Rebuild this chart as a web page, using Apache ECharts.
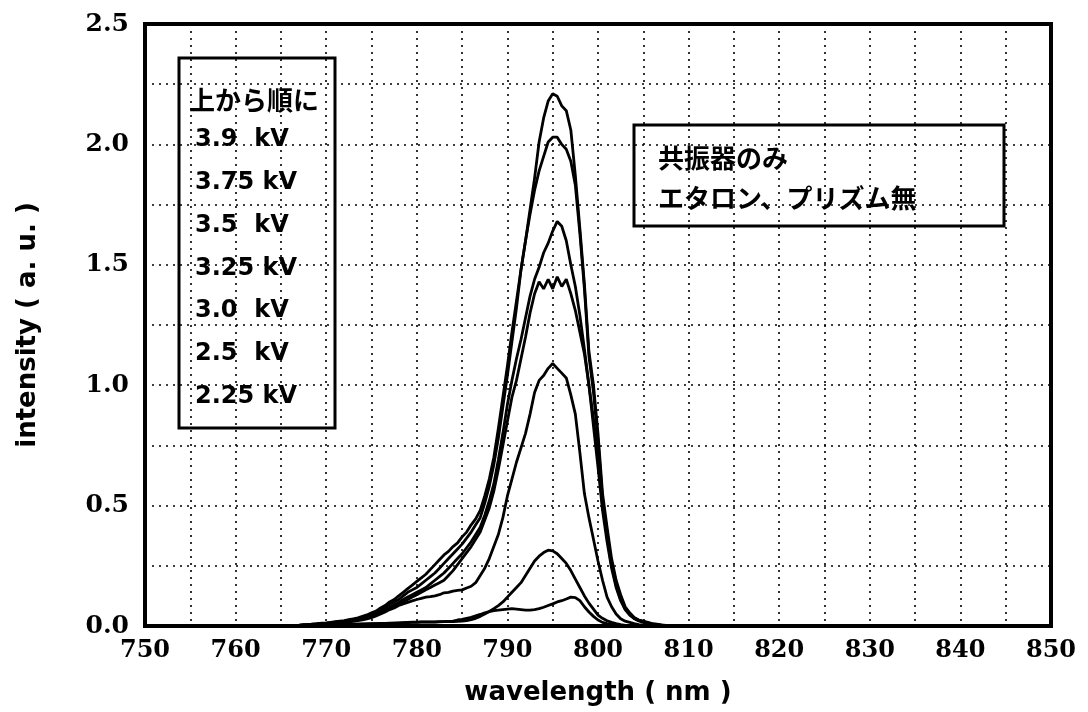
<!DOCTYPE html>
<html>
<head>
<meta charset="utf-8">
<script src="https://cdn.jsdelivr.net/npm/echarts@6/dist/echarts.min.js"></script>
<style>
html,body{margin:0;padding:0;background:#fff;}
#chart{width:1088px;height:712px;}
</style>
</head>
<body>
<div id="chart"></div>
<script>
const wavelength = [766,766.5,767,767.5,768,768.5,769,769.5,770,770.5,771,771.5,772,772.5,773,773.5,774,774.5,775,775.5,776,776.5,777,777.5,778,778.5,779,779.5,780,780.5,781,781.5,782,782.5,783,783.5,784,784.5,785,785.5,786,786.5,787,787.5,788,788.5,789,789.5,790,790.5,791,791.5,792,792.5,793,793.5,794,794.5,795,795.5,796,796.5,797,797.5,798,798.5,799,799.5,800,800.5,801,801.5,802,802.5,803,803.5,804,804.5,805,805.5,806,806.5,807,807.5,808];

const v390 = [0.000,0.003,0.004,0.006,0.006,0.008,0.010,0.012,0.012,0.015,0.018,0.020,0.022,0.026,0.030,0.034,0.040,0.046,0.055,0.062,0.075,0.085,0.100,0.110,0.125,0.140,0.155,0.170,0.185,0.200,0.215,0.235,0.255,0.275,0.295,0.310,0.330,0.345,0.370,0.390,0.420,0.445,0.480,0.540,0.610,0.700,0.820,0.950,1.080,1.220,1.350,1.480,1.600,1.730,1.860,2.010,2.110,2.180,2.210,2.200,2.160,2.140,2.060,1.870,1.650,1.420,1.140,1.000,0.800,0.550,0.410,0.280,0.190,0.130,0.080,0.055,0.035,0.025,0.020,0.015,0.010,0.008,0.005,0.003,0.000];
const v375 = [0.000,0.002,0.003,0.005,0.006,0.008,0.009,0.011,0.012,0.014,0.016,0.019,0.020,0.024,0.027,0.031,0.036,0.042,0.050,0.058,0.068,0.078,0.090,0.100,0.110,0.125,0.140,0.150,0.160,0.175,0.190,0.205,0.220,0.240,0.260,0.280,0.300,0.320,0.340,0.365,0.390,0.420,0.450,0.510,0.580,0.670,0.780,0.910,1.040,1.180,1.320,1.480,1.600,1.710,1.810,1.890,1.950,2.010,2.030,2.030,2.000,1.980,1.930,1.830,1.630,1.400,1.120,0.970,0.770,0.530,0.390,0.260,0.180,0.120,0.075,0.050,0.033,0.024,0.018,0.013,0.009,0.006,0.004,0.002,0.000];
const v350 = [0.000,0.002,0.003,0.004,0.005,0.007,0.008,0.010,0.011,0.013,0.015,0.017,0.019,0.022,0.025,0.029,0.033,0.038,0.045,0.052,0.060,0.068,0.078,0.088,0.098,0.110,0.120,0.130,0.140,0.150,0.160,0.175,0.190,0.205,0.220,0.240,0.260,0.280,0.300,0.325,0.350,0.380,0.410,0.460,0.520,0.590,0.690,0.800,0.920,1.020,1.110,1.190,1.280,1.370,1.440,1.490,1.550,1.590,1.640,1.680,1.660,1.600,1.500,1.410,1.290,1.150,1.000,0.860,0.700,0.500,0.370,0.250,0.170,0.110,0.070,0.048,0.032,0.023,0.017,0.012,0.008,0.005,0.003,0.002,0.000];
const v325 = [0.000,0.001,0.002,0.004,0.005,0.006,0.007,0.009,0.010,0.012,0.014,0.016,0.018,0.020,0.023,0.027,0.030,0.035,0.040,0.048,0.058,0.066,0.075,0.082,0.090,0.100,0.110,0.120,0.130,0.140,0.150,0.160,0.170,0.180,0.190,0.210,0.230,0.255,0.280,0.305,0.330,0.360,0.390,0.440,0.490,0.560,0.650,0.750,0.850,0.950,1.020,1.110,1.200,1.300,1.380,1.430,1.400,1.440,1.400,1.450,1.410,1.440,1.380,1.310,1.220,1.130,1.000,0.830,0.660,0.480,0.350,0.240,0.160,0.105,0.068,0.045,0.030,0.021,0.015,0.011,0.007,0.004,0.002,0.001,0.000];
const v300 = [0.000,0.001,0.002,0.003,0.004,0.005,0.006,0.008,0.009,0.010,0.012,0.013,0.015,0.017,0.019,0.022,0.025,0.030,0.035,0.042,0.050,0.058,0.068,0.075,0.085,0.092,0.098,0.104,0.110,0.115,0.120,0.122,0.125,0.130,0.138,0.140,0.145,0.148,0.150,0.158,0.165,0.180,0.210,0.240,0.280,0.330,0.380,0.450,0.540,0.610,0.680,0.740,0.800,0.880,0.970,1.020,1.040,1.070,1.090,1.070,1.050,1.030,0.960,0.880,0.720,0.550,0.450,0.360,0.270,0.190,0.120,0.080,0.050,0.030,0.020,0.015,0.010,0.006,0.004,0.002,0.001,0.000,0.000,0.000,0.000];
const v250 = [0.000,0.001,0.002,0.002,0.003,0.003,0.004,0.004,0.005,0.005,0.006,0.006,0.007,0.007,0.008,0.008,0.009,0.009,0.010,0.010,0.011,0.011,0.012,0.012,0.013,0.014,0.015,0.016,0.016,0.017,0.017,0.017,0.017,0.018,0.018,0.018,0.018,0.019,0.020,0.022,0.026,0.032,0.040,0.050,0.060,0.072,0.085,0.100,0.120,0.140,0.160,0.180,0.210,0.240,0.270,0.290,0.305,0.315,0.312,0.300,0.280,0.260,0.230,0.195,0.160,0.125,0.095,0.070,0.045,0.032,0.022,0.015,0.010,0.006,0.003,0.002,0.001,0.000,0.000,0.000,0.000,0.000,0.000,0.000,0.000];
const v225 = [0.000,0.001,0.001,0.002,0.002,0.003,0.003,0.004,0.004,0.005,0.005,0.006,0.006,0.007,0.007,0.008,0.008,0.009,0.009,0.010,0.010,0.011,0.011,0.012,0.012,0.013,0.014,0.015,0.015,0.016,0.016,0.016,0.016,0.017,0.018,0.019,0.020,0.025,0.028,0.032,0.036,0.042,0.048,0.055,0.060,0.064,0.066,0.068,0.070,0.072,0.070,0.068,0.066,0.066,0.068,0.072,0.078,0.085,0.092,0.100,0.105,0.112,0.120,0.118,0.105,0.080,0.058,0.040,0.025,0.015,0.010,0.006,0.003,0.002,0.001,0.000,0.000,0.000,0.000,0.000,0.000,0.000,0.000,0.000,0.000];

const seriesNames = ['3.9  kV','3.75 kV','3.5  kV','3.25 kV','3.0  kV','2.5  kV','2.25 kV'];
const seriesValues = [v390, v375, v350, v325, v300, v250, v225];
const legendTitle = '上から順に';
const noteLines = ['共振器のみ', 'エタロン、プリズム無'];
const xTitle = 'wavelength ( nm )';
const yTitle = 'intensity ( a. u. )';

const chart = echarts.init(document.getElementById('chart'), null, {renderer: 'canvas'});

const dotted = {color: '#000', width: 1.6, type: [2, 5]};
const series = seriesValues.map((vals, i) => ({
  name: seriesNames[i],
  type: 'line',
  showSymbol: false,
  symbol: 'none',
  data: wavelength.map((w, j) => [w, vals[j]]),
  lineStyle: {color: '#000', width: 2.8},
  itemStyle: {color: '#000'},
  z: 10,
  animation: false
}));

const legendChildren = [
  {type: 'rect', shape: {x: 179, y: 58, width: 156, height: 370}, style: {fill: '#fff', stroke: '#000', lineWidth: 3}},
  {type: 'text', x: 189, y: 100, style: {text: legendTitle, font: 'bold 26px "Noto Sans CJK JP"', fill: '#000', verticalAlign: 'middle'}}
];
seriesNames.forEach((n, i) => {
  legendChildren.push({type: 'text', x: 195, y: 140 + i * 42.8, style: {text: n, font: 'bold 24px "DejaVu Sans"', fill: '#000', verticalAlign: 'middle'}});
});

const noteChildren = [
  {type: 'rect', shape: {x: 634, y: 125, width: 370, height: 101}, style: {fill: '#fff', stroke: '#000', lineWidth: 3}},
  {type: 'text', x: 658, y: 158, style: {text: noteLines[0], font: 'bold 26px "Noto Sans CJK JP"', fill: '#000', verticalAlign: 'middle'}},
  {type: 'text', x: 658, y: 198, style: {text: noteLines[1], font: 'bold 26px "Noto Sans CJK JP"', fill: '#000', verticalAlign: 'middle'}}
];

chart.setOption({
  animation: false,
  backgroundColor: '#fff',
  grid: {left: 145, right: 37, top: 24, bottom: 86, show: true, borderColor: '#000', borderWidth: 4, backgroundColor: '#fff'},
  xAxis: {
    type: 'value', min: 750, max: 850, interval: 10,
    axisLine: {show: false},
    axisTick: {show: false},
    axisLabel: {color: '#000', fontFamily: 'DejaVu Serif', fontWeight: 'bold', fontSize: 24, margin: 13},
    splitLine: {show: true, lineStyle: dotted},
    minorTick: {show: false, splitNumber: 2},
    minorSplitLine: {show: true, lineStyle: dotted},
    name: xTitle, nameLocation: 'middle', nameGap: 54,
    nameTextStyle: {color: '#000', fontFamily: 'DejaVu Sans', fontWeight: 'bold', fontSize: 26}
  },
  yAxis: {
    type: 'value', min: 0, max: 2.5, interval: 0.5,
    axisLine: {show: false},
    axisTick: {show: false},
    axisLabel: {color: '#000', fontFamily: 'DejaVu Serif', fontWeight: 'bold', fontSize: 25, margin: 16, formatter: v => v.toFixed(1)},
    splitLine: {show: true, lineStyle: dotted},
    minorTick: {show: false, splitNumber: 2},
    minorSplitLine: {show: true, lineStyle: dotted},
    name: yTitle, nameLocation: 'middle', nameGap: 104, nameRotate: 90,
    nameTextStyle: {color: '#000', fontFamily: 'DejaVu Sans', fontWeight: 'bold', fontSize: 26}
  },
  series: series,
  graphic: [
    {type: 'group', z: 100, children: legendChildren},
    {type: 'group', z: 100, children: noteChildren}
  ]
});
</script>
</body>
</html>
